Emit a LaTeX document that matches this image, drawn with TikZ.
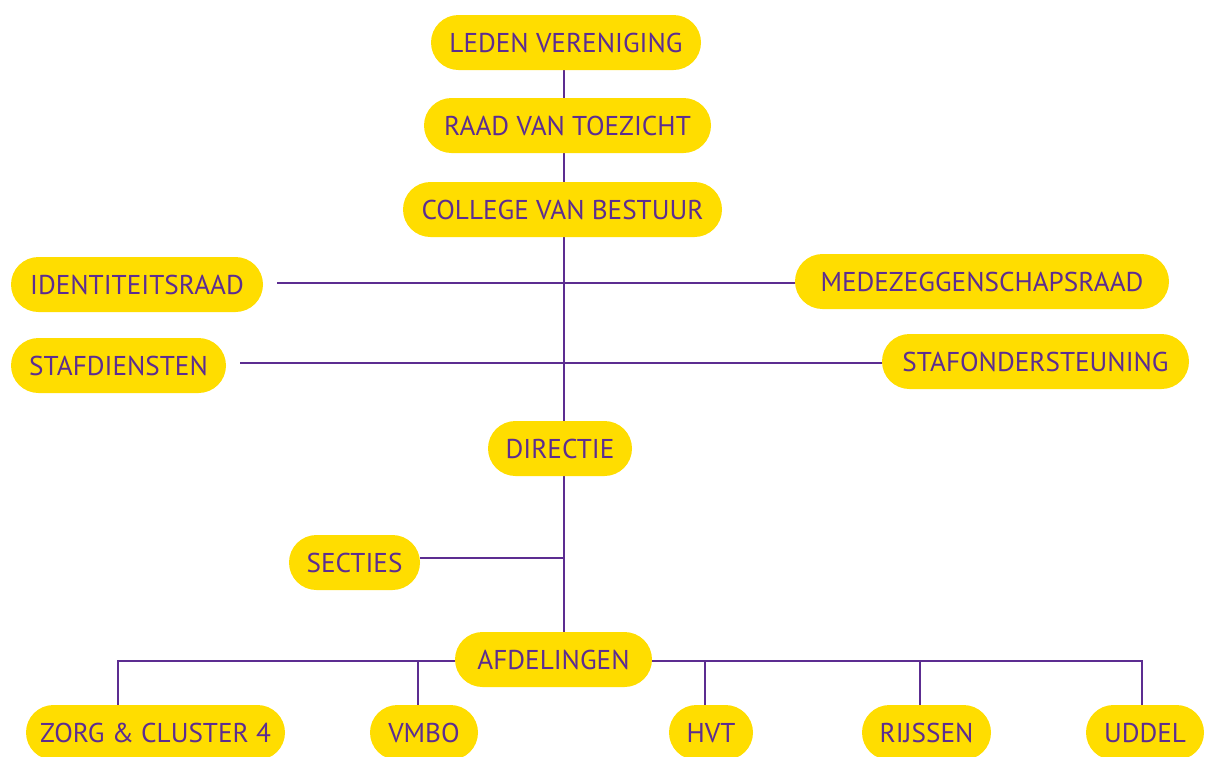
\documentclass[tikz,border=0pt]{standalone}
\usepackage{fontspec}
\setmainfont{PT Sans}
\usetikzlibrary{backgrounds}
\definecolor{pur}{RGB}{92,45,145}
\definecolor{yel}{RGB}{255,221,0}
\begin{document}
\begin{tikzpicture}[x=1pt,y=-1pt,
  pill/.style={fill=yel, rounded corners=27.5pt, minimum height=55pt, inner sep=0pt,
    text=pur, font=\fontsize{27.2}{27}\selectfont, text height=19pt, text depth=0pt},
  conn/.style={draw=pur, line width=2.8pt}]
\useasboundingbox (0,0) rectangle (1205,756);
% nodes
\node[pill, minimum width=270pt] (leden)  at (566,42.5)   {LEDEN VERENIGING};
\node[pill, minimum width=287pt] (raad)   at (567.5,125.5) {RAAD VAN TOEZICHT};
\node[pill, minimum width=319pt] (college) at (562.5,209.5) {COLLEGE VAN BESTUUR};
\node[pill, minimum width=252pt] (ident)  at (137,284.5)  {IDENTITEITSRAAD};
\node[pill, minimum width=374pt] (medez)  at (982,281.5)  {MEDEZEGGENSCHAPSRAAD};
\node[pill, minimum width=215pt] (stafd)  at (118.5,365.5) {STAFDIENSTEN};
\node[pill, minimum width=307pt] (stafo)  at (1035.5,361.5) {STAFONDERSTEUNING};
\node[pill, minimum width=144pt] (dir)    at (560,448.5)  {DIRECTIE};
\node[pill, minimum width=131pt] (sect)   at (354.5,562.5) {SECTIES};
\node[pill, minimum width=197pt] (afd)    at (553.5,659.5) {AFDELINGEN};
\node[pill, minimum width=259pt] (zorg)   at (155.5,732.5) {ZORG \& CLUSTER 4};
\node[pill, minimum width=108pt] (vmbo)   at (424,732.5)  {VMBO};
\node[pill, minimum width=84pt]  (hvt)    at (711,732.5)  {HVT};
\node[pill, minimum width=129pt] (rijs)   at (926.5,732.5) {RIJSSEN};
\node[pill, minimum width=118pt] (uddel)  at (1145,732.5) {UDDEL};
% helper coordinates
\coordinate (sp) at (564,0);
\coordinate (h1) at (277,283);
\coordinate (h2) at (240,363);
\coordinate (h3) at (0,558);
\coordinate (s1) at (118,661);
\coordinate (s2) at (418,661);
\coordinate (s3) at (705,661);
\coordinate (s4) at (920,661);
\coordinate (s5) at (1142,661);
\begin{scope}[on background layer]
  \draw[conn] (leden.center -| sp) -- (afd.center -| sp);
  \draw[conn] (h1) -- (h1 -| medez.west);
  \draw[conn] (h2) -- (h2 -| stafo.west);
  \draw[conn] (h3 -| sect.east) -- (h3 -| sp);
  \draw[conn] (s1 |- zorg.north) -- (s1) -- (s5) -- (s5 |- uddel.north);
  \draw[conn] (s2) -- (s2 |- vmbo.north);
  \draw[conn] (s3) -- (s3 |- hvt.north);
  \draw[conn] (s4) -- (s4 |- rijs.north);
\end{scope}
\end{tikzpicture}
\end{document}
